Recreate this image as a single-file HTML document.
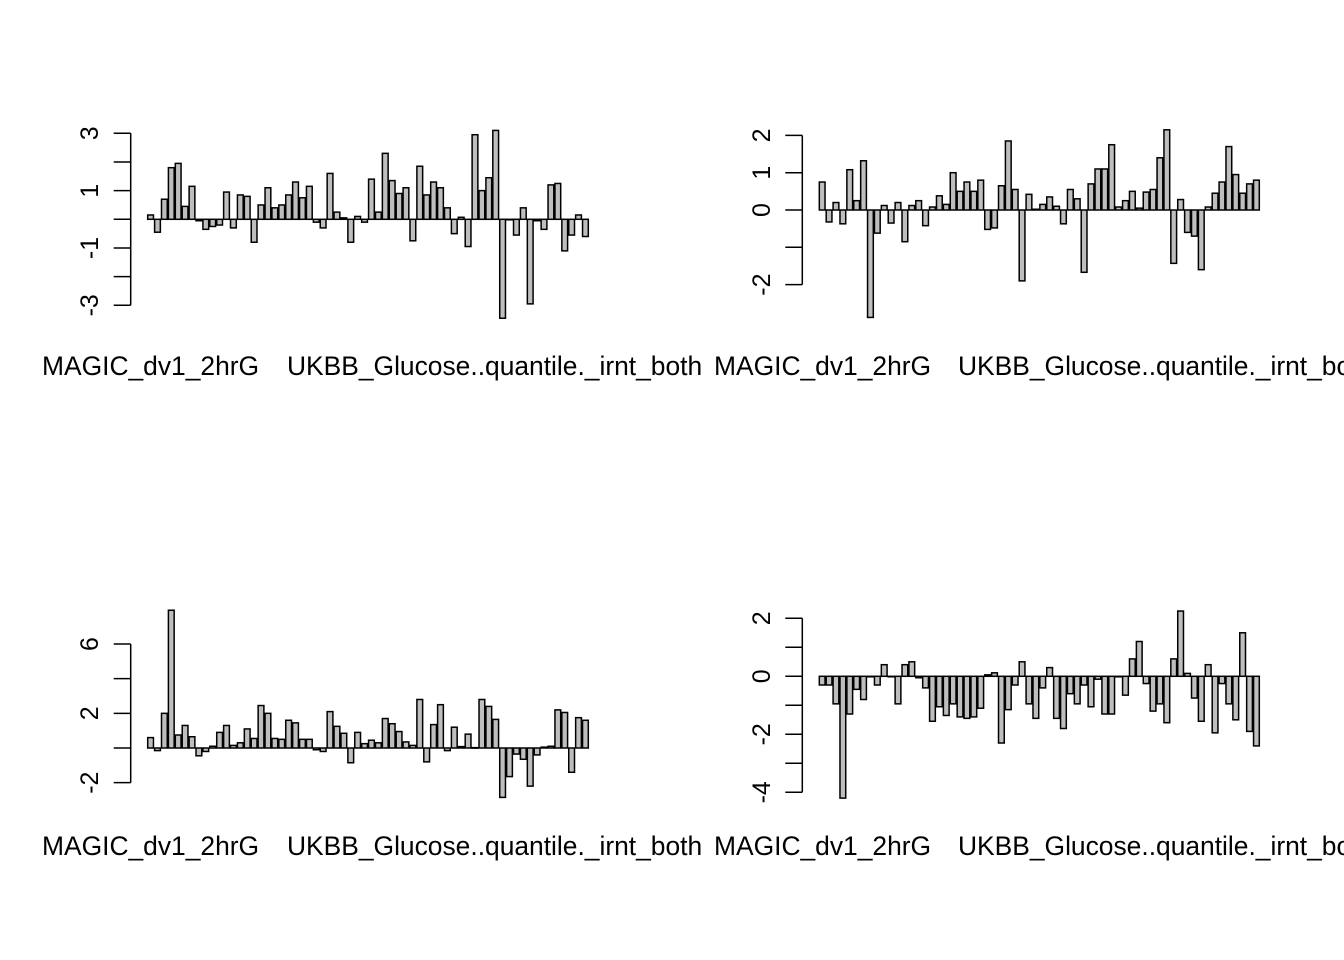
<!DOCTYPE html>
<html><head><meta charset="utf-8"><style>
html,body{margin:0;padding:0;background:#fff;overflow:hidden}
svg{display:block;font-family:"Liberation Sans",Arial,sans-serif}
</style></head><body>
<svg id="chart" width="1344" height="960" viewBox="0 0 1344 960"></svg>
<script>
const p1Values=[0.15,-0.45,0.7,1.8,1.95,0.45,1.15,-0.05,-0.35,-0.25,-0.2,0.95,-0.3,0.85,0.8,-0.8,0.5,1.1,0.4,0.5,0.85,1.3,0.75,1.15,-0.1,-0.3,1.6,0.25,0.05,-0.8,0.1,-0.1,1.4,0.25,2.3,1.35,0.9,1.1,-0.75,1.85,0.85,1.3,1.1,0.4,-0.5,0.07,-0.95,2.95,1.0,1.45,3.1,-3.45,0,-0.55,0.4,-2.95,-0.05,-0.35,1.2,1.25,-1.1,-0.55,0.15,-0.6];
const p2Values=[0.75,-0.32,0.2,-0.37,1.08,0.25,1.32,-2.88,-0.62,0.12,-0.35,0.2,-0.85,0.12,0.25,-0.42,0.08,0.38,0.15,1.0,0.5,0.75,0.5,0.8,-0.52,-0.48,0.65,1.85,0.55,-1.9,0.42,0.02,0.15,0.35,0.1,-0.37,0.55,0.3,-1.67,0.7,1.1,1.1,1.75,0.08,0.25,0.5,0.05,0.48,0.55,1.4,2.15,-1.43,0.28,-0.6,-0.7,-1.6,0.08,0.45,0.75,1.7,0.95,0.45,0.7,0.8];
const p3Values=[0.6,-0.15,2.0,7.95,0.75,1.3,0.65,-0.45,-0.2,0.1,0.9,1.3,0.15,0.3,1.1,0.55,2.45,2.0,0.55,0.5,1.6,1.45,0.5,0.5,-0.1,-0.2,2.1,1.25,0.85,-0.85,0.9,0.25,0.45,0.3,1.7,1.4,0.95,0.35,0.15,2.8,-0.8,1.35,2.5,-0.15,1.2,0.08,0.8,0.02,2.8,2.4,1.65,-2.85,-1.65,-0.35,-0.65,-2.2,-0.4,0.05,0.1,2.2,2.05,-1.4,1.75,1.6];
const p4Values=[-0.3,-0.3,-0.95,-4.2,-1.3,-0.45,-0.8,0,-0.3,0.4,0,-0.95,0.4,0.5,-0.05,-0.4,-1.55,-1.05,-1.35,-0.95,-1.4,-1.45,-1.4,-1.1,0.05,0.12,-2.3,-1.15,-0.3,0.5,-0.95,-1.45,-0.4,0.3,-1.45,-1.8,-0.6,-0.95,-0.3,-1.05,-0.1,-1.3,-1.3,0,-0.65,0.6,1.2,-0.25,-1.2,-0.95,-1.6,0.6,2.25,0.1,-0.75,-1.55,0.4,-1.95,-0.25,-0.95,-1.5,1.5,-1.9,-2.4];
const p1Ticks=[-3,-2,-1,0,1,2,3];
const p1Labels=["-3","","-1","","1","","3"];
const p2Ticks=[-2,-1,0,1,2];
const p2Labels=["-2","","0","1","2"];
const p3Ticks=[-2,0,2,4,6];
const p3Labels=["-2","","2","","6"];
const p4Ticks=[-4,-3,-2,-1,0,1,2];
const p4Labels=["-4","","-2","","0","","2"];
const xNames=["MAGIC_dv1_2hrG","UKBB_Glucose..quantile._irnt_both"];

const NS="http://www.w3.org/2000/svg";
const svg=document.getElementById('chart');
function mk(tag,attrs,parent){const e=document.createElementNS(NS,tag);for(const k in attrs)e.setAttribute(k,attrs[k]);(parent||svg).appendChild(e);return e;}

const panels=[
 {vals:p1Values,ticks:p1Ticks,labels:p1Labels,zero:219.3,unit:28.67,axisX:130.7,x0:147.7,x1:588.3,labX:90,nameY:375,nameX:[42,287],id:'panel-1'},
 {vals:p2Values,ticks:p2Ticks,labels:p2Labels,zero:210,unit:37.3,axisX:802.3,x0:819.3,x1:1259.3,labX:762,nameY:375,nameX:[714,958],id:'panel-2'},
 {vals:p3Values,ticks:p3Ticks,labels:p3Labels,zero:748,unit:17.33,axisX:130.7,x0:147.7,x1:588.3,labX:90,nameY:855,nameX:[42,287],id:'panel-3'},
 {vals:p4Values,ticks:p4Ticks,labels:p4Labels,zero:676.3,unit:29,axisX:802.3,x0:819.3,x1:1259.3,labX:762,nameY:855,nameX:[714,958],id:'panel-4'}
];

panels.forEach(p=>{
 const g=mk('g',{});
 
 
 const n=p.vals.length;
 const unitW=(p.x1-p.x0)/(n*1.2-0.2);
 const xs=i=>p.x0+i*1.2*unitW;
 const ys=v=>p.zero-v*p.unit;
 const tmin=Math.min(...p.ticks),tmax=Math.max(...p.ticks);
 const ax=mk('line',{x1:p.axisX,x2:p.axisX,y1:ys(tmin),y2:ys(tmax),stroke:'#000','stroke-width':1.5},g);
 
 
 p.ticks.forEach((t,i)=>{
  const tk=mk('line',{x1:p.axisX-17,x2:p.axisX,y1:ys(t),y2:ys(t),stroke:'#000','stroke-width':1.5},g);
  
  
  if(p.labels[i]){
   const tx=mk('text',{x:0,y:0,'font-size':25,'text-anchor':'middle',transform:`translate(${p.labX+8},${ys(t)}) rotate(-90)`},g);
   tx.textContent=p.labels[i];
   
   
  }
 });
 p.vals.forEach((v,i)=>{
  const y=Math.min(ys(v),ys(0));
  const h=Math.max(Math.abs(ys(v)-ys(0)),0.5);
  const r=mk('rect',{x:xs(i),y:y,width:unitW,height:h,fill:'#bebebe',stroke:'#000','stroke-width':1.5},g);
  
  
 });
 xNames.forEach((nm,i)=>{
  const t=mk('text',{x:p.nameX[i],y:p.nameY,'font-size':26.4},g);
  t.textContent=nm;
  
  
 });
});
</script>
</body></html>
